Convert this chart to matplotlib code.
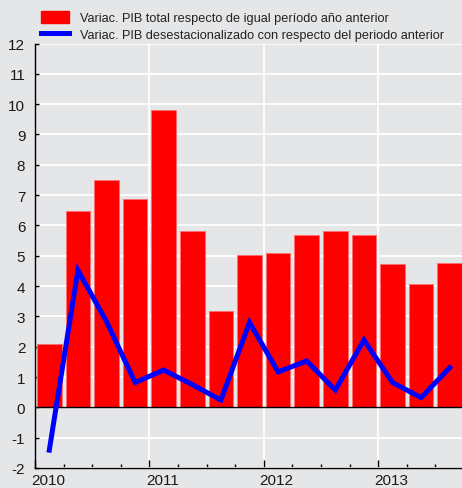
import matplotlib
matplotlib.use("Agg")
import matplotlib.pyplot as plt
import matplotlib.transforms as mtransforms
from matplotlib.patches import Patch
from matplotlib.lines import Line2D

plt.rcParams['font.family'] = ['Liberation Sans', 'DejaVu Sans']
plt.rcParams['axes.unicode_minus'] = False

years = ["2010", "2011", "2012", "2013"]
pib_total = [2.10, 6.47, 7.49, 6.88, 9.82, 5.81, 3.18, 5.02, 5.08, 5.70, 5.82, 5.68, 4.73, 4.07, 4.75]
pib_desest = [-1.41, 4.52, 2.83, 0.82, 1.23, 0.75, 0.24, 2.80, 1.17, 1.53, 0.57, 2.22, 0.82, 0.32, 1.31]
label_total = "Variac. PIB total respecto de igual período año anterior"
label_desest = "Variac. PIB desestacionalizado con respecto del periodo anterior"

bg = "#e5e6e8"
W, H = 462, 489
fig = plt.figure(figsize=(W / 100, H / 100), dpi=100, facecolor=bg)
left, right = 35 / W, 1.0
bottom, top = 1 - 469 / H, 1 - 44.5 / H
ax = fig.add_axes([left, bottom, right - left, top - bottom], facecolor=bg)

n = len(pib_total)
xs = [i + 0.5 for i in range(n)]
ax.bar(xs, pib_total, width=0.86, color="#ff0000", edgecolor="#ff7070", linewidth=0.7, zorder=2)
ax.plot(xs, pib_desest, color="#0000ff", linewidth=3.6, zorder=3, solid_joinstyle="miter")
ax.axhline(0, color="black", linewidth=1.0, zorder=2.5)

ax.set_xlim(0, (462 - 35) / 28.6)
ax.set_ylim(-2, 12)
ax.set_yticks(range(-2, 13))
ax.set_xticks([0, 4, 8, 12])
ax.set_xticks(range(0, 15), minor=True)
ax.set_xticklabels([])
ax.grid(True, which="major", color="white", linewidth=1.3, zorder=0)
ax.set_axisbelow(True)

for s in ["top", "right"]:
    ax.spines[s].set_visible(False)
for s in ["left", "bottom"]:
    ax.spines[s].set_color("black")
    ax.spines[s].set_linewidth(1.0)

ax.tick_params(axis="y", direction="in", length=3, width=1, labelsize=11, pad=7, colors="black",
               labelcolor="#1a1a1a")
ax.tick_params(axis="x", which="major", direction="in", length=6, width=1, colors="black")
ax.tick_params(axis="x", which="minor", direction="in", length=3, width=1, colors="black")

trans = mtransforms.blended_transform_factory(ax.transData, ax.transAxes)
for k, y in enumerate(years):
    ax.text(4 * k + 0.45, -0.012, y, transform=trans, ha="center", va="top", fontsize=11,
            color="#1a1a1a")

handles = [Patch(facecolor="#ff0000", edgecolor="#ff0000"),
           Line2D([0], [0], color="#0000ff", linewidth=3.6)]
leg = fig.legend(handles, [label_total, label_desest], loc="upper left",
                 bbox_to_anchor=(41 / W, 1 - 12 / H), frameon=False, fontsize=9.2,
                 handlelength=2.2, handleheight=1.1, handletextpad=0.85, labelspacing=0.22,
                 borderaxespad=0, borderpad=0)
for t in leg.get_texts():
    t.set_color("#222222")

fig.savefig("out.png", dpi=100, facecolor=bg)
